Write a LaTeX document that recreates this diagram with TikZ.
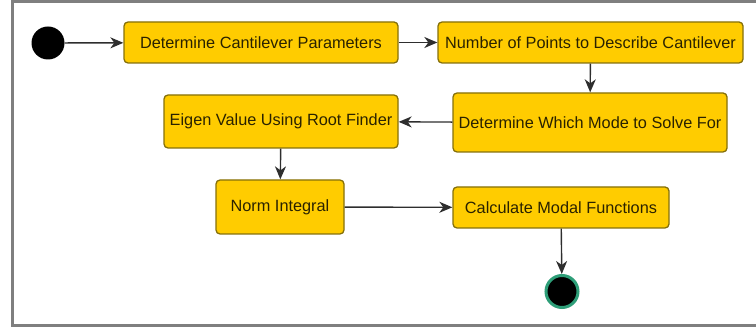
\documentclass[tikz,border=0pt]{standalone}
\usepackage{fontspec}
\setmainfont{Liberation Sans}
\usetikzlibrary{arrows.meta}

\definecolor{actfill}{HTML}{FFCC00}
\definecolor{actline}{HTML}{85700A}
\definecolor{acttext}{HTML}{2A2200}
\definecolor{flowline}{HTML}{2E2E2E}
\definecolor{frameline}{HTML}{7F7F7F}
\definecolor{endring}{HTML}{2E9E78}

\tikzset{
  activity/.style={draw=actline, fill=actfill, line width=1.3pt, rounded corners=4pt,
    text=acttext, inner sep=0pt, font=\fontsize{16.3}{18}\selectfont},
  flow/.style={draw=flowline, line width=1.4pt, -{Stealth[length=13pt,width=11pt,inset=4pt]}}
}

\begin{document}
\begin{tikzpicture}[x=1pt, y=-1pt]
  \useasboundingbox (0,0) rectangle (756,331);

  % Frame (open to the right)
  \draw[frameline, line width=3pt] (770,1.5) -- (12,1.5) -- (12,325.5) -- (770,325.5);

  % Start and end
  \node[circle, fill=black, minimum size=33pt, inner sep=0pt] (start) at (48,43) {};
  \node[circle, fill=black, draw=endring, line width=3pt, minimum size=32pt, inner sep=0pt] (finish) at (562,291.5) {};

  % Activities
  \node[activity, minimum width=274pt, minimum height=41pt] (params) at (261,42.5) {Determine Cantilever Parameters};
  \node[activity, minimum width=305pt, minimum height=41pt] (points) at (590.5,42.5) {Number of Points to Describe Cantilever};
  \node[activity, minimum width=274pt, minimum height=59pt] (mode) at (590,122.5) {Determine Which Mode to Solve For};
  \node[activity, minimum width=234pt, minimum height=53pt] (eigen) at (281,121.5) {Eigen Value Using Root Finder};
  \node[activity, minimum width=128pt, minimum height=54pt] (norm) at (280,207) {Norm Integral};
  \node[activity, minimum width=216pt, minimum height=41pt] (modal) at (561,207.5) {Calculate Modal Functions};

  % Flow
  \draw[flow] (start) -- (params);
  \draw[flow] (params) -- (points);
  \draw[flow] (points) -- (mode);
  \draw[flow] (mode) -- (eigen);
  \draw[flow] (eigen) -- (norm);
  \draw[flow] (norm) -- (modal);
  \draw[flow] (modal) -- (finish);
\end{tikzpicture}
\end{document}
